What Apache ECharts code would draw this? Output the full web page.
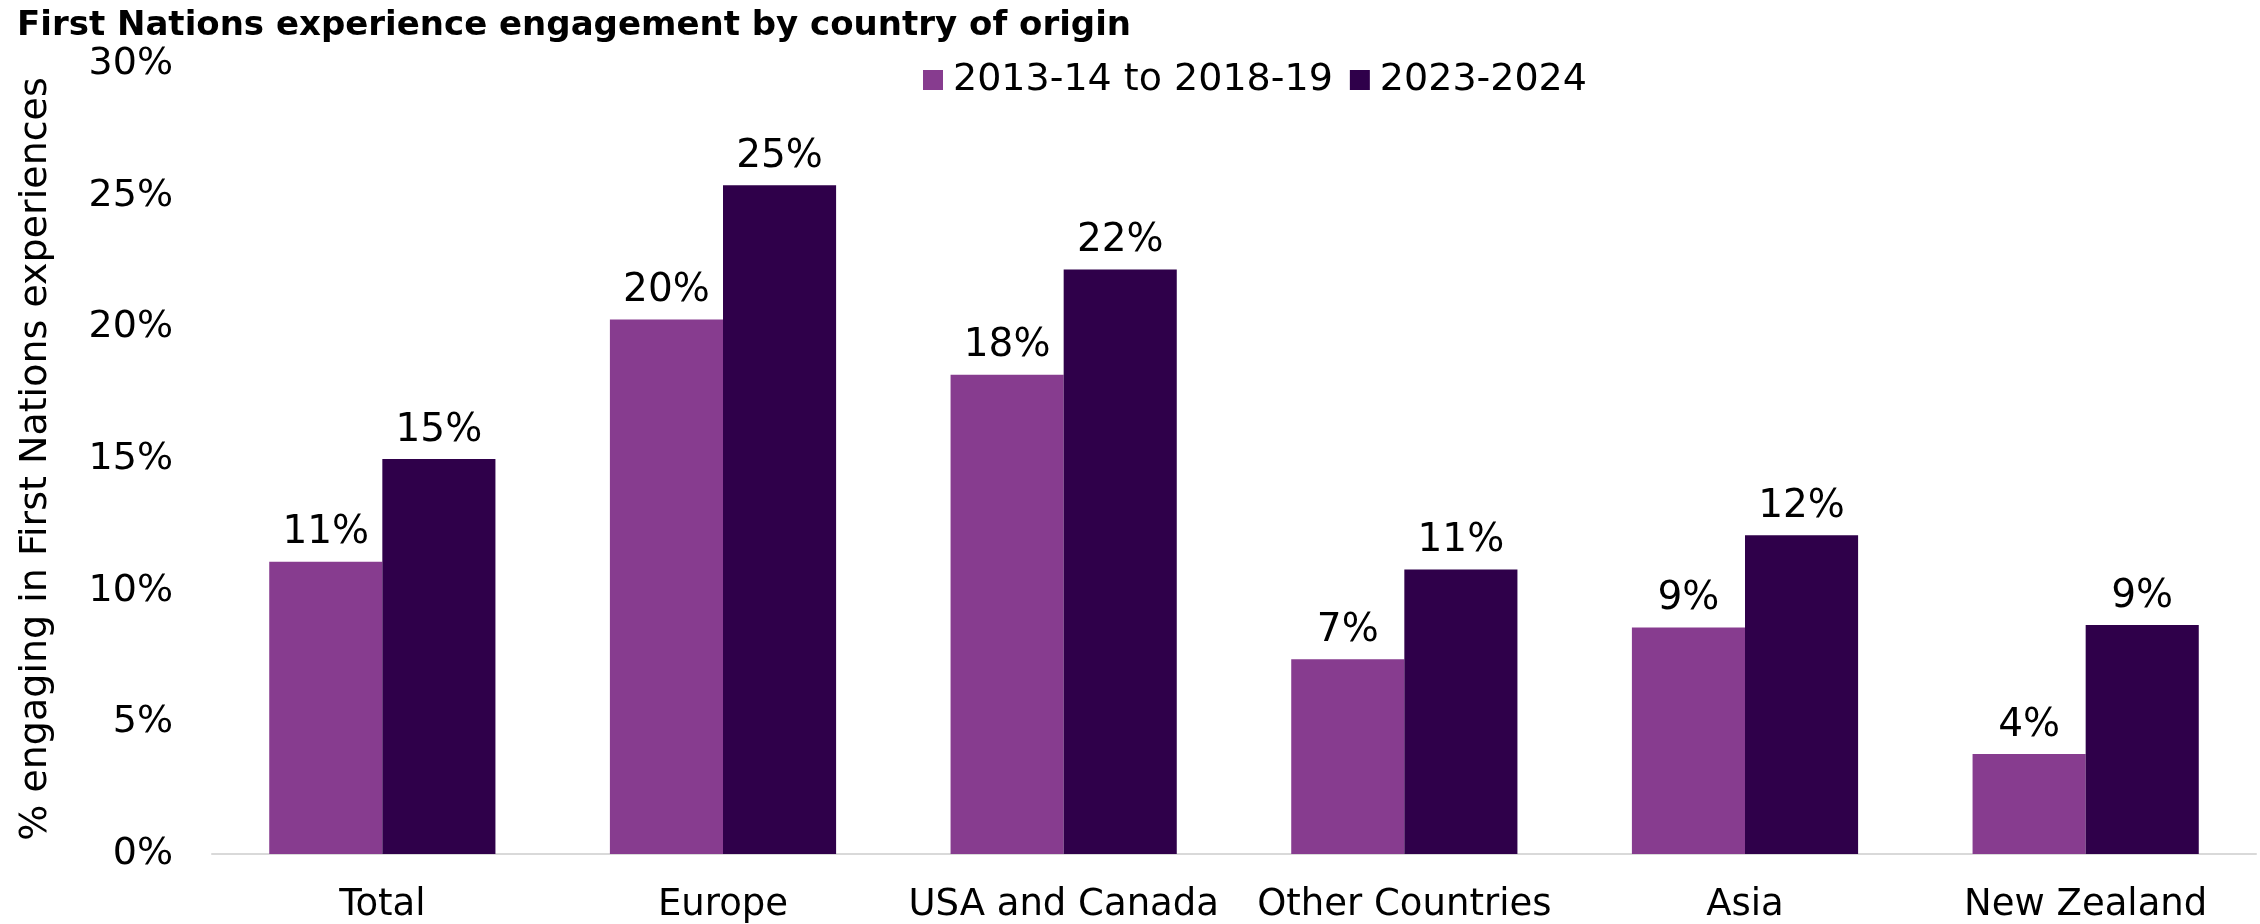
<!DOCTYPE html>
<html>
<head>
<meta charset="utf-8">
<script src="https://cdn.jsdelivr.net/npm/echarts@6/dist/echarts.min.js"></script>
<style>
html,body{margin:0;padding:0;background:#fff;}
#chart{width:2260px;height:924px;}
</style>
</head>
<body>
<div id="chart"></div>
<script>
const categories = ['Total', 'Europe', 'USA and Canada', 'Other Countries', 'Asia', 'New Zealand'];
const seriesNames = ['2013-14 to 2018-19', '2023-2024'];
const earlier = [11.1, 20.3, 18.2, 7.4, 8.6, 3.8];
const recent = [15.0, 25.4, 22.2, 10.8, 12.1, 8.7];
const labelsEarlier = ['11%', '20%', '18%', '7%', '9%', '4%'];
const labelsRecent = ['15%', '25%', '22%', '11%', '12%', '9%'];
const yTicks = [0, 5, 10, 15, 20, 25, 30];

const font = '"DejaVu Sans", Verdana, sans-serif';
const chart = echarts.init(document.getElementById('chart'));
chart.setOption({
  animation: false,
  backgroundColor: '#ffffff',
  title: {
    text: 'First Nations experience engagement by country of origin',
    left: 12, top: 4,
    textStyle: { fontFamily: font, fontWeight: 'bold', fontSize: 34, color: '#000' }
  },
  legend: {
    data: seriesNames,
    left: 918, top: 56,
    icon: 'rect', itemWidth: 20, itemHeight: 20, itemGap: 17,
    textStyle: { fontFamily: font, fontSize: 38, color: '#000', padding: [0, 0, 0, 5] }
  },
  grid: { left: 212, right: 4, top: 64, bottom: 68, containLabel: false },
  xAxis: {
    type: 'category',
    data: categories,
    axisLine: { show: true, lineStyle: { color: '#d9d9d9', width: 2 } },
    axisTick: { show: false },
    axisLabel: { fontFamily: font, fontSize: 37, color: '#000', margin: 33, interval: 0 }
  },
  yAxis: {
    type: 'value',
    min: 0, max: 30, interval: 5,
    name: '% engaging in First Nations experiences',
    nameLocation: 'middle',
    nameGap: 157,
    nameTextStyle: { fontFamily: font, fontSize: 38, color: '#000' },
    splitLine: { show: false },
    axisLine: { show: false },
    axisTick: { show: false },
    axisLabel: {
      fontFamily: font, fontSize: 38, color: '#000', margin: 39,
      formatter: v => yTicks.includes(v) ? v + '%' : ''
    }
  },
  series: [
    {
      name: seriesNames[0], type: 'bar', data: earlier,
      barGap: '0%', barCategoryGap: '33.6%',
      itemStyle: { color: '#873C8F' },
      label: { show: true, position: 'top', distance: 9, fontFamily: font, fontSize: 39, color: '#000',
        formatter: p => labelsEarlier[p.dataIndex] }
    },
    {
      name: seriesNames[1], type: 'bar', data: recent,
      barGap: '0%', barCategoryGap: '33.6%',
      itemStyle: { color: '#2F004A' },
      label: { show: true, position: 'top', distance: 9, fontFamily: font, fontSize: 39, color: '#000',
        formatter: p => labelsRecent[p.dataIndex] }
    }
  ]
});
</script>
</body>
</html>
